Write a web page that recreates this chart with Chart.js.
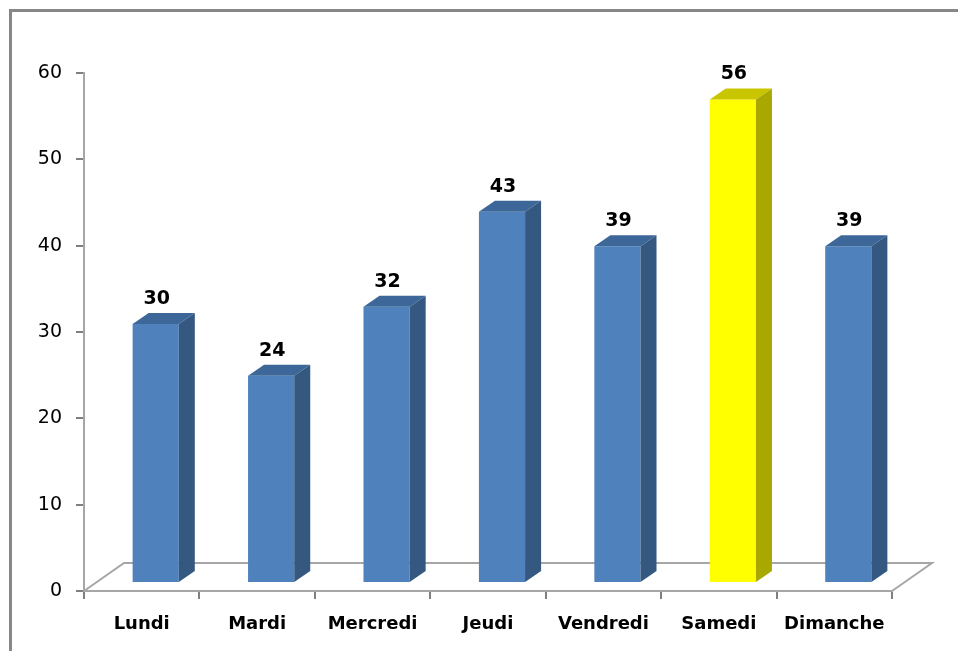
<!DOCTYPE html>
<html>
<head>
<meta charset="utf-8">
<script src="https://cdn.jsdelivr.net/npm/chart.js@4/dist/chart.umd.min.js"></script>
<style>
  html, body { margin: 0; padding: 0; background: #fff; overflow: hidden; }
  #frame { position: absolute; left: 9px; top: 9px; width: 1000px; height: 700px;
           border-left: 3px solid #878787; border-top: 3px solid #878787; }
  #chart { position: absolute; left: 0; top: 0; }
</style>
</head>
<body>
<div id="frame"></div>
<canvas id="chart" width="958" height="651"></canvas>
<script>
// jours de la semaine + valeurs
const days = ['Lundi', 'Mardi', 'Mercredi', 'Jeudi', 'Vendredi', 'Samedi', 'Dimanche'];
const counts = [30, 24, 32, 43, 39, 56, 39];
const yTicks = [0, 10, 20, 30, 40, 50, 60];
const highlighted = 'Samedi';

// styles
const BLUE = { front: '#4F81BD', side: '#34587F', top: '#3D6798' };
const YELLOW = { front: '#FFFF00', side: '#A8A800', top: '#C9C600' };
const AXIS = '#A6A6A6';
const TICK = '#808080';

// faux 3D
const SHIFT_X = 14, SHIFT_Y = -8;   // position of the bar inside the floor
const DEPTH_X = 16, DEPTH_Y = -11;  // bar depth
const FLOOR_X = 40, FLOOR_Y = -28;  // floor depth

const palette = days.map(d => d === highlighted ? YELLOW : BLUE);

const bars3d = {
  id: 'bars3d',
  beforeDatasetsDraw(chart) {
    const { ctx } = chart;
    const x = chart.scales.x, y = chart.scales.y;
    const l = x.left, r = x.right, b = y.getPixelForValue(0);
    // floor
    ctx.save();
    ctx.strokeStyle = AXIS;
    ctx.lineWidth = 2;
    ctx.beginPath();
    ctx.moveTo(l, b);
    ctx.lineTo(l + FLOOR_X, b + FLOOR_Y);
    ctx.lineTo(r + FLOOR_X, b + FLOOR_Y);
    ctx.lineTo(r, b);
    ctx.stroke();
    ctx.restore();
    // the library draws the front faces, shifted into the floor
    ctx.save();
    ctx.translate(SHIFT_X, SHIFT_Y);
  },
  afterDatasetsDraw(chart) {
    const { ctx } = chart;
    const meta = chart.getDatasetMeta(0);
    meta.data.forEach((el, i) => {
      const p = el.getProps(['x', 'y', 'base', 'width'], true);
      const x0 = p.x - p.width / 2, x1 = p.x + p.width / 2;
      const c = palette[i];
      ctx.fillStyle = c.top;
      ctx.beginPath();
      ctx.moveTo(x0, p.y);
      ctx.lineTo(x1, p.y);
      ctx.lineTo(x1 + DEPTH_X, p.y + DEPTH_Y);
      ctx.lineTo(x0 + DEPTH_X, p.y + DEPTH_Y);
      ctx.closePath();
      ctx.fill();
      ctx.fillStyle = c.side;
      ctx.beginPath();
      ctx.moveTo(x1, p.y);
      ctx.lineTo(x1 + DEPTH_X, p.y + DEPTH_Y);
      ctx.lineTo(x1 + DEPTH_X, p.base + DEPTH_Y);
      ctx.lineTo(x1, p.base);
      ctx.closePath();
      ctx.fill();
      // value label
      ctx.fillStyle = '#000';
      ctx.font = 'bold 19px "DejaVu Sans"';
      ctx.textAlign = 'center';
      ctx.textBaseline = 'middle';
      ctx.fillText(String(counts[i]), p.x + 1, p.y - 25);
    });
    ctx.restore();
  }
};

new Chart(document.getElementById('chart'), {
  type: 'bar',
  data: {
    labels: days,
    datasets: [{
      data: counts,
      backgroundColor: palette.map(c => c.front),
      borderWidth: 0,
      barPercentage: 0.4,
      categoryPercentage: 1.0
    }]
  },
  options: {
    responsive: false,
    animation: false,
    layout: { padding: { top: 73, right: 66, left: 0, bottom: 0 } },
    plugins: { legend: { display: false }, tooltip: { enabled: false } },
    scales: {
      x: {
        afterFit(scale) { scale.height = 60; },
        grid: { drawOnChartArea: false, tickLength: 8, color: TICK, lineWidth: 2, offset: true },
        border: { color: AXIS, width: 2 },
        ticks: { color: '#000', padding: 15, font: { family: 'DejaVu Sans', size: 18, weight: 'bold' } }
      },
      y: {
        min: yTicks[0],
        max: yTicks[yTicks.length - 1],
        afterFit(scale) { scale.width = 84; },
        afterBuildTicks(scale) { scale.ticks = yTicks.map(v => ({ value: v })); },
        grid: { drawOnChartArea: false, tickLength: 8, color: TICK, lineWidth: 2 },
        border: { color: AXIS, width: 2 },
        ticks: { color: '#000', padding: 14, font: { family: 'DejaVu Sans', size: 19 } }
      }
    }
  },
  plugins: [bars3d]
});
</script>
</body>
</html>
